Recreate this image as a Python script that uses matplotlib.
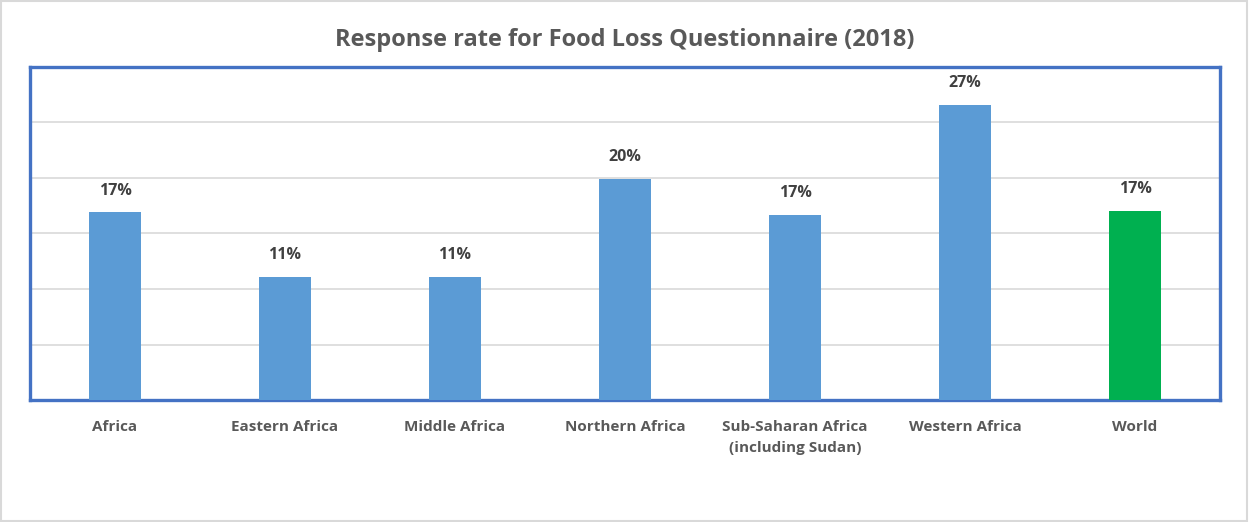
import matplotlib
matplotlib.use("Agg")
import matplotlib.pyplot as plt
from matplotlib.patches import Rectangle

categories = ["Africa", "Eastern Africa", "Middle Africa", "Northern Africa",
              "Sub-Saharan Africa\n(including Sudan)", "Western Africa", "World"]
values = [16.9, 11.1, 11.1, 19.9, 16.7, 26.6, 17.0]
labels = ["17%", "11%", "11%", "20%", "17%", "27%", "17%"]
colors = ["#5B9BD5"] * 6 + ["#00B050"]
title = "Response rate for Food Loss Questionnaire (2018)"

plt.rcParams['font.family'] = ['Open Sans', 'DejaVu Sans']

fig = plt.figure(figsize=(12.49, 5.22), dpi=100)
fig.patches.append(Rectangle((0.001, 0.002), 0.997, 0.996, transform=fig.transFigure,
                             fill=False, edgecolor="#D9D9D9", linewidth=1.5))
ax = fig.add_axes([0.024, 0.2337, 0.9528, 0.638])
x = list(range(len(categories)))
ax.bar(x, values, width=0.31, color=colors, zorder=3)
ax.set_xlim(-0.5, len(categories) - 0.5)
ax.set_ylim(0, 30)
ax.set_yticks([0, 5, 10, 15, 20, 25, 30])
ax.yaxis.grid(True, color="#D9D9D9", linewidth=1.2, zorder=0)
ax.tick_params(axis='y', left=False, labelleft=False)
ax.tick_params(axis='x', bottom=False, pad=11)
ax.set_xticks(x)
ax.set_xticklabels(categories, fontsize=11, fontweight='bold', color="#595959",
                   linespacing=1.65)
for s in ax.spines.values():
    s.set_color("#4472C4")
    s.set_linewidth(2.4)
for xi, v, lab in zip(x, values, labels):
    ax.annotate(lab, (xi, v), xytext=(0, 10), textcoords='offset points',
                ha='center', va='bottom', fontsize=11.5, fontweight='bold',
                color="#404040")
fig.text(0.5, 0.923, title, ha='center', va='center', fontsize=17,
         fontweight='bold', color="#595959")
fig.savefig("out.png", dpi=100)
